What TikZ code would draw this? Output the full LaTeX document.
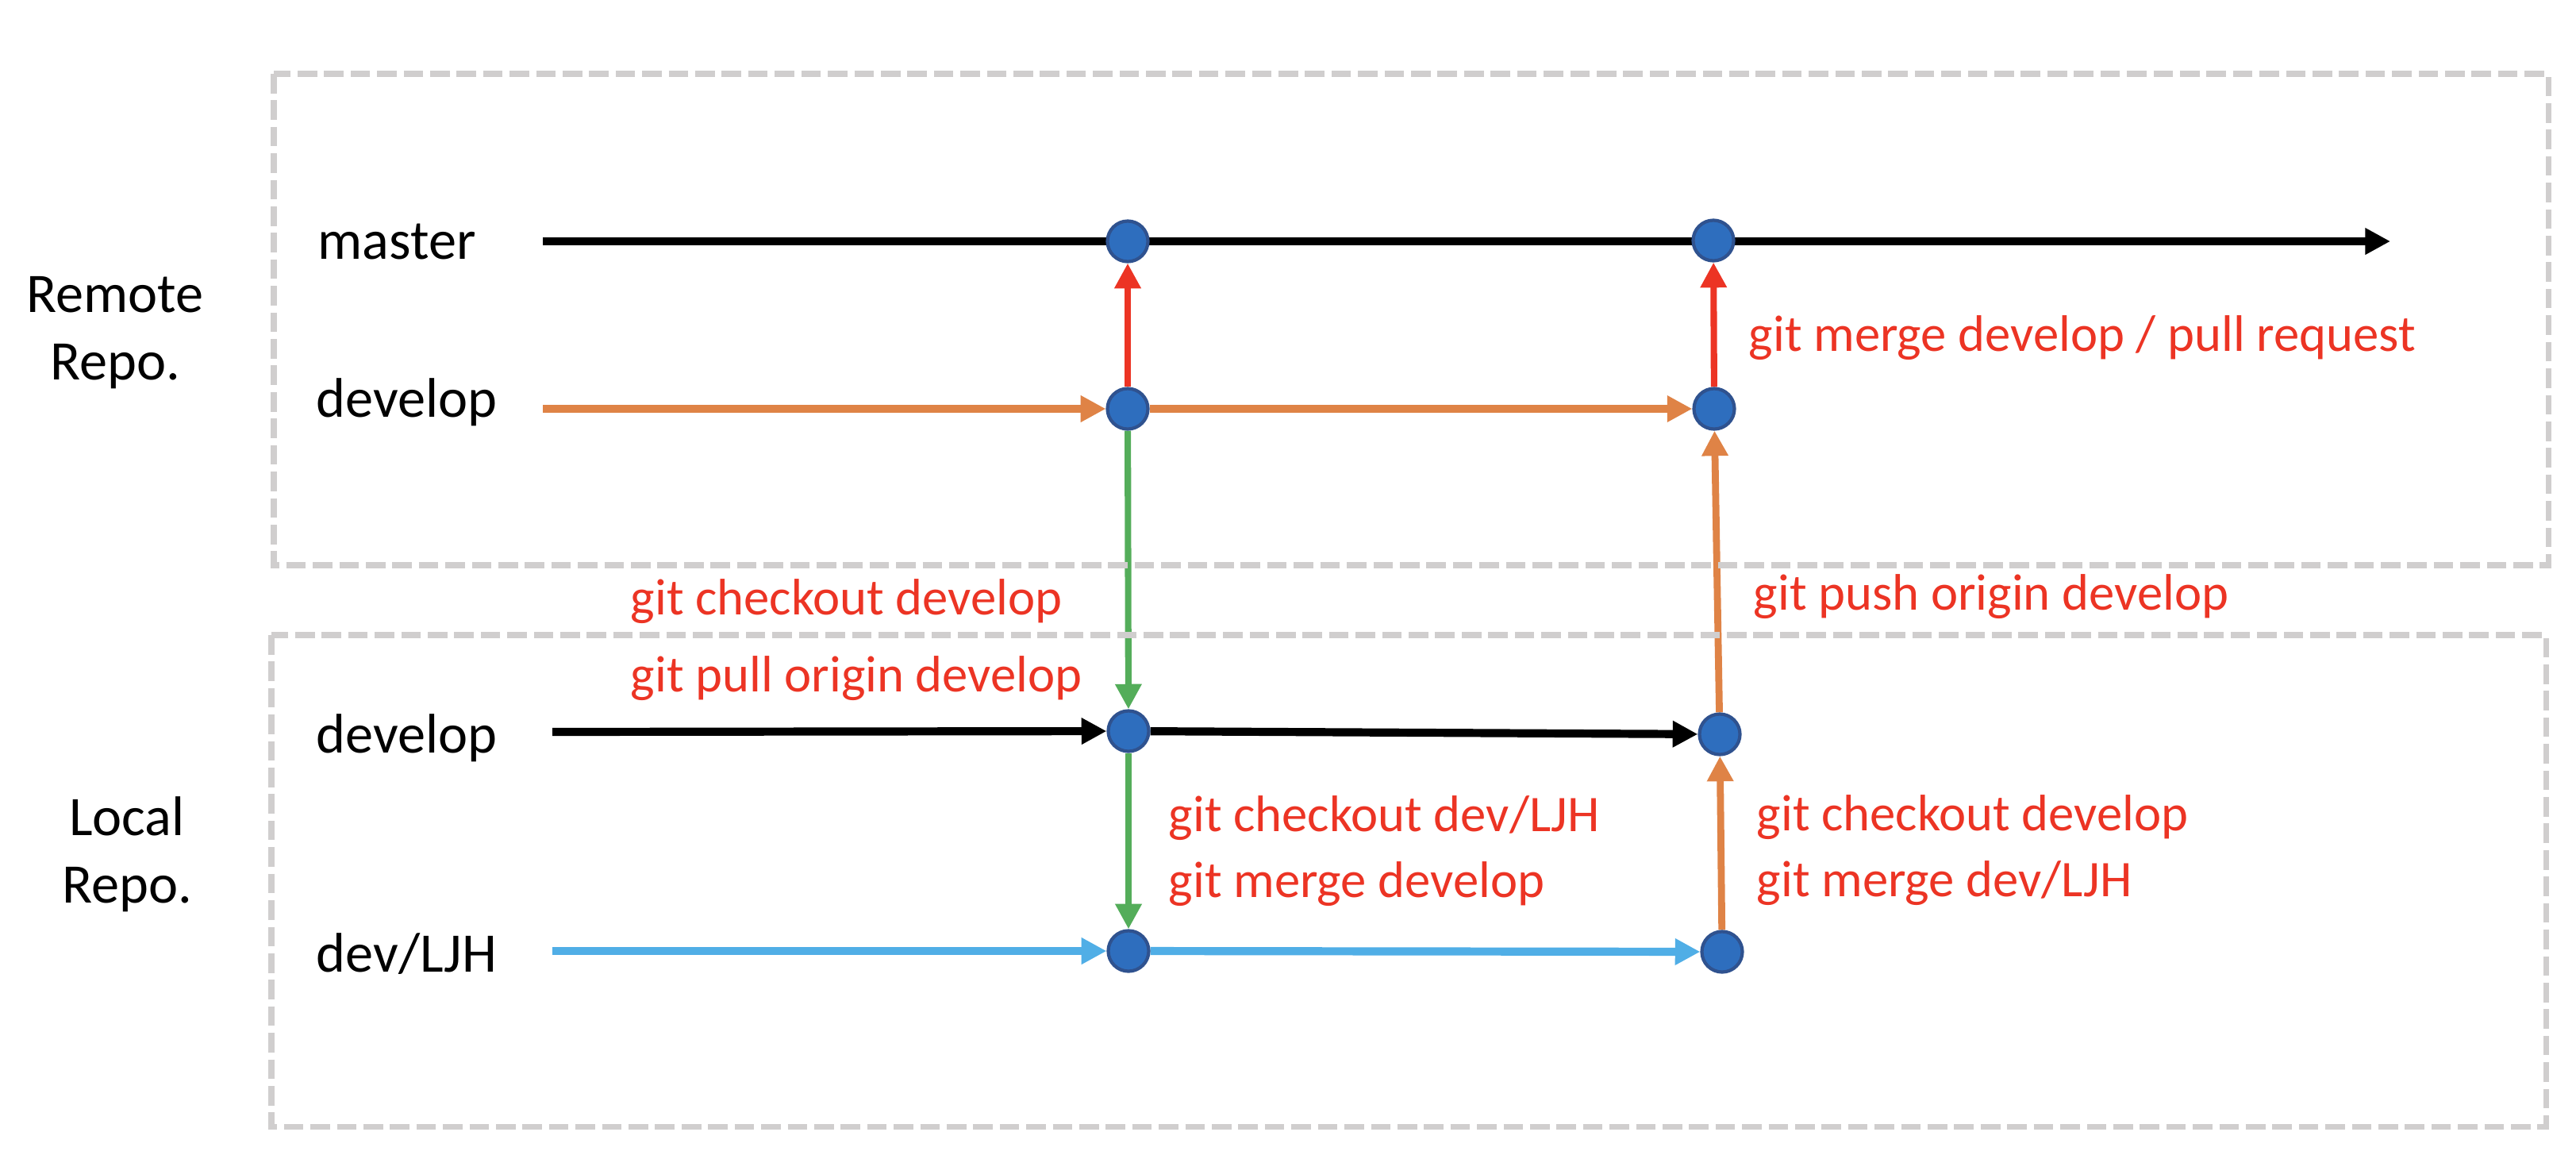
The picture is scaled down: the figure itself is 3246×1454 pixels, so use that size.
\documentclass[tikz,border=0pt]{standalone}
\usepackage{fontspec}
\setmainfont{Carlito}
\usetikzlibrary{arrows.meta,backgrounds}
\definecolor{gitred}{RGB}{236,52,36}
\definecolor{gitorange}{RGB}{223,131,70}
\definecolor{gitgreen}{RGB}{84,173,90}
\definecolor{gitblue}{RGB}{80,174,230}
\definecolor{nodefill}{RGB}{46,110,190}
\definecolor{nodeborder}{RGB}{47,82,143}
\definecolor{boxgray}{RGB}{208,206,206}
\begin{document}
\begin{tikzpicture}[x=0.01cm,y=-0.01cm,
  commit/.style={circle,fill=nodefill,draw=nodeborder,line width=1.2pt,minimum size=0.51cm,inner sep=0pt},
  branchlabel/.style={anchor=base west,inner sep=0pt,font=\fontsize{20}{24}\selectfont},
  repolabel/.style={anchor=base,inner sep=0pt,font=\fontsize{20}{24}\selectfont},
  cmd/.style={anchor=base west,inner sep=0pt,text=gitred,font=\fontsize{18.4}{22}\selectfont},
  hline/.style={line width=2.9pt,-{Triangle[length=9pt,width=9pt]}},
  vline/.style={line width=2.3pt,-{Triangle[length=9pt,width=9pt]}},
  repobox/.style={draw=boxgray,line width=2pt,dash pattern=on 7pt off 2.5pt}]
\useasboundingbox (0,0) rectangle (3246,1454);
% repository boxes
\draw[repobox] (345,93) rectangle (3211,712);
\draw[repobox] (342,800) rectangle (3208,1419);
% commits
\node[commit] (m1) at (1421,304) {};
\node[commit] (m2) at (2159,303) {};
\node[commit] (r1) at (1421,515) {};
\node[commit] (r2) at (2160,515) {};
\node[commit] (l1) at (1422,921) {};
\node[commit] (l2) at (2167,925) {};
\node[commit] (d1) at (1422,1198) {};
\node[commit] (d2) at (2170,1199) {};
% free ends
\coordinate (ms) at (684,304);
\coordinate (me) at (3012,304);
\coordinate (rs) at (684,515);
\coordinate (ls) at (696,922);
\coordinate (ds) at (696,1198);
\begin{pgfonlayer}{background}
\draw[hline,black] (ms) -- (me);
\draw[hline,gitorange] (rs) -- (r1);
\draw[hline,gitorange] (r1) -- (r2);
\draw[hline,black] (ls) -- (l1);
\draw[hline,black] (l1) -- (l2);
\draw[hline,gitblue] (ds) -- (d1);
\draw[hline,gitblue] (d1) -- (d2);
\draw[vline,gitred] (r1) -- (m1);
\draw[vline,gitred] (r2) -- (m2);
\draw[vline,gitgreen] (r1) -- (l1);
\draw[vline,gitgreen] (l1) -- (d1);
\draw[vline,gitorange,line width=2.5pt] (d2) -- (l2);
\draw[vline,gitorange,line width=2.5pt] (l2) -- (r2);
\end{pgfonlayer}
% labels
\node[branchlabel] (lm) at (400,326) {master};
\node[branchlabel] (lrd) at (398,525) {develop};
\node[branchlabel] (lld) at (398,948) {develop};
\node[branchlabel] (ldl) at (398,1224) {dev/LJH};
\node[repolabel] (rr1) at (145,393) {Remote};
\node[repolabel] (rr2) at (145,478) {Repo.};
\node[repolabel] (lr1) at (160,1052) {Local};
\node[repolabel] (lr2) at (160,1137) {Repo.};
% commands
\node[cmd] (c1) at (794,774) {git checkout develop};
\node[cmd] (c2) at (794,871) {git pull origin develop};
\node[cmd] (c3) at (2203,442) {git merge develop / pull request};
\node[cmd] (c4) at (2209,768) {git push origin develop};
\node[cmd] (c5) at (1472,1047) {git checkout dev/LJH};
\node[cmd] (c6) at (1472,1130) {git merge develop};
\node[cmd] (c7) at (2213,1046) {git checkout develop};
\node[cmd] (c8) at (2213,1129) {git merge dev/LJH};
\end{tikzpicture}
\end{document}
